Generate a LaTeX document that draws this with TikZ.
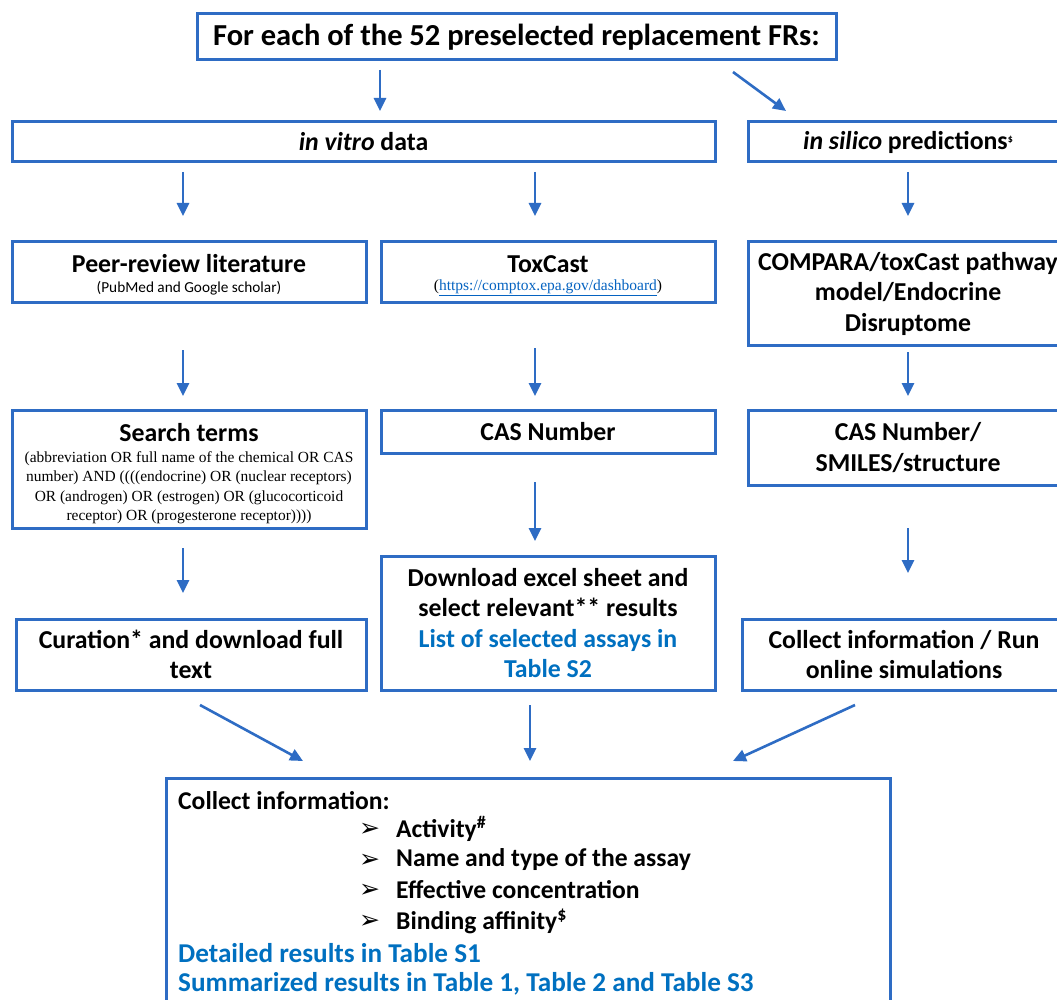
\documentclass[tikz,border=0pt]{standalone}
\usepackage{fontspec}
\setmainfont{Carlito}
\newfontfamily\tnr{Liberation Serif}
\newfontfamily\dejavu{DejaVu Sans}
\usetikzlibrary{arrows.meta}
\definecolor{boxblue}{RGB}{46,108,196}
\definecolor{txtblue}{RGB}{0,112,192}
\definecolor{linkblue}{RGB}{5,99,193}
\tikzset{
  box/.style={draw=boxblue, line width=3pt, fill=white, inner sep=0pt, align=center, text=black},
  bigtxt/.style={font=\fontsize{25.8}{30.5}\selectfont\bfseries},
  arr/.style={draw=boxblue, line width=2.6pt, -{Triangle[length=13pt,width=12pt]}},
  listtxt/.style={font=\fontsize{25.6}{28}\selectfont\bfseries, anchor=west, inner sep=0pt},
}
\begin{document}
\begin{tikzpicture}[x=1pt,y=-1pt]
\useasboundingbox (0,0) rectangle (1057,1000);
\clip (0,0) rectangle (1057,1000);
\fill[white] (0,0) rectangle (1057,1000);

% row 0
\node[box, minimum width=639pt, minimum height=46pt, font=\fontsize{30.5}{34}\selectfont\bfseries] (title) at (516.5,37) {For each of the 52 preselected replacement FRs:};

% row 1
\node[box, bigtxt, minimum width=703pt, minimum height=40pt] (vitro) at (363.5,142) {\textit{in vitro} data};
\node[box, bigtxt, minimum width=320pt, minimum height=40pt] (silico) at (908,142) {\textit{in silico} predictions\raisebox{0.5ex}{\fontsize{10}{10}\selectfont\$}};

% row 2
\node[box, minimum width=354pt, minimum height=60pt] (peer) at (189,272) {};
\node[bigtxt] (peert) at (189,264) {Peer-review literature};
\node[font=\fontsize{15.3}{17}\selectfont] (peers) at (189,288) {(PubMed and Google scholar)};

\node[box, minimum width=334pt, minimum height=60pt] (tox) at (548,272) {};
\node[bigtxt] (toxt) at (548,264) {ToxCast};
\node[font=\fontsize{15.5}{17}\selectfont\tnr] (toxs) at (548,288) {(\textcolor{linkblue}{\underline{https://comptox.epa.gov/dashboard}})};

\node[box, bigtxt, minimum width=320pt, minimum height=103pt] (compara) at (908,293.5) {COMPARA/toxCast pathway\\model/Endocrine\\Disruptome};

% row 3
\node[box, minimum width=354pt, minimum height=118pt] (search) at (189,469) {};
\node[bigtxt] (searcht) at (189,433) {Search terms};
\node[font=\fontsize{15.45}{19.5}\selectfont\tnr, align=center, anchor=north] (searchs) at (189,448) {(abbreviation OR full name of the chemical OR CAS\\number) AND ((((endocrine) OR (nuclear receptors)\\OR (androgen) OR (estrogen) OR (glucocorticoid\\receptor) OR (progesterone receptor))))};

\node[box, bigtxt, minimum width=334pt, minimum height=43pt] (cas) at (548,431.5) {CAS Number};
\node[box, bigtxt, minimum width=320pt, minimum height=75pt] (smiles) at (908,447.5) {CAS Number/\\SMILES/structure};

% row 4
\node[box, bigtxt, minimum width=350pt, minimum height=71pt] (cur) at (191,654.5) {Curation* and download full\\text};
\node[box, bigtxt, minimum width=334pt, minimum height=134pt] (down) at (548,623) {Download excel sheet and\\select relevant** results\\\textcolor{txtblue}{List of selected assays in}\\\textcolor{txtblue}{Table S2}};
\node[box, bigtxt, minimum width=324pt, minimum height=71pt] (run) at (904,654.5) {Collect information / Run\\online simulations};

% bottom
\node[box, minimum width=724pt, minimum height=240pt] (final) at (528,898) {};
\node[listtxt] (h) at (178,801) {Collect information:};
\foreach \y/\t/\n in {829/{Activity\textsuperscript{\#}}/b1, 860/{Name and type of the assay}/b2, 890/{Effective concentration}/b3, 921/{Binding affinity\textsuperscript{\$}}/b4}{
  \node[anchor=west, inner sep=0pt, font=\fontsize{25}{26}\selectfont\dejavu] (m\n) at (359,\y+1) {➢};
  \node[listtxt] (\n) at (396,\y) {\t};
}
\node[listtxt, font=\fontsize{27.2}{28}\selectfont\bfseries, text=txtblue] (r1) at (178,953) {Detailed results in Table S1};
\node[listtxt, font=\fontsize{27.2}{28}\selectfont\bfseries, text=txtblue] (r2) at (178,984) {Summarized results in Table 1, Table 2 and Table S3};

% arrow end points
\coordinate (a1s) at (380,70);  \coordinate (a1e) at (380,111);
\coordinate (a2s) at (733,72);  \coordinate (a2e) at (786,111);
\coordinate (a3s) at (183,172); \coordinate (a3e) at (183,216);
\coordinate (a4s) at (535,172); \coordinate (a4e) at (535,216);
\coordinate (a5s) at (908,172); \coordinate (a5e) at (908,216);
\coordinate (a6s) at (183,350); \coordinate (a6e) at (183,396);
\coordinate (a7s) at (535,348); \coordinate (a7e) at (535,396);
\coordinate (a8s) at (908,352); \coordinate (a8e) at (908,396);
\coordinate (a9s) at (183,548); \coordinate (a9e) at (183,593);
\coordinate (a10s) at (535,482); \coordinate (a10e) at (535,541);
\coordinate (a11s) at (908,528); \coordinate (a11e) at (908,573);
\coordinate (a12s) at (200,705); \coordinate (a12e) at (303,761);
\coordinate (a13s) at (530,705); \coordinate (a13e) at (530,761);
\coordinate (a14s) at (855,705); \coordinate (a14e) at (733,761);
\foreach \i in {1,...,14}{ \draw[arr] (a\i s) -- (a\i e); }
\end{tikzpicture}
\end{document}
